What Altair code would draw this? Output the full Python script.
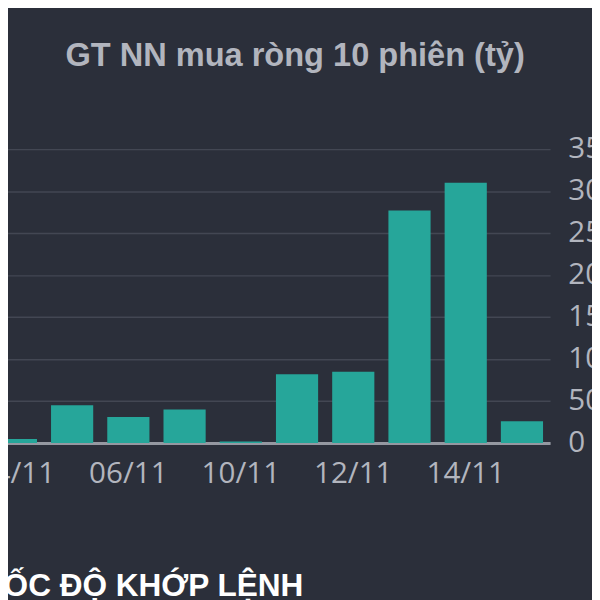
import altair as alt
import pandas as pd

dates = ["04/11", "05/11", "06/11", "07/11", "10/11", "11/11", "12/11", "13/11", "14/11", "17/11"]
values = [5, 45, 31, 40, 2, 82, 85, 277, 310, 26]
shown_dates = ["04/11", "06/11", "10/11", "12/11", "14/11"]
y_ticks = [0, 50, 100, 150, 200, 250, 300, 350]

df = pd.DataFrame({"date": dates, "value": values})

BG = "#2b2f3a"
TXT = "#b2b5be"

chart = alt.Chart(df).mark_bar(color="#26a69a").encode(
    x=alt.X(
        "date:N",
        sort=dates,
        scale=alt.Scale(paddingInner=0.25, paddingOuter=0.125),
        axis=alt.Axis(
            values=shown_dates,
            labelAngle=0,
            labelFont="Open Sans",
            labelFontSize=30,
            labelColor=TXT,
            labelPadding=16,
            ticks=False,
            domainColor="#9598a1",
            domainWidth=3,
            grid=False,
            title="TỐC ĐỘ KHỚP LỆNH",
            titleFont="Liberation Sans",
            titleFontWeight="bold",
            titleFontSize=32,
            titleColor="#ffffff",
            titleAnchor="start",
            titleAlign="left",
            titleBaseline="alphabetic",
            titleX=-4,
            titleY=154,
        ),
    ),
    y=alt.Y(
        "value:Q",
        scale=alt.Scale(domain=[0, 350], nice=False),
        axis=alt.Axis(
            orient="right",
            values=y_ticks,
            format="d",
            labelFont="Open Sans",
            labelFontSize=30,
            labelColor=TXT,
            labelPadding=18,
            labelAlign="left",
            labelBaseline="middle",
            ticks=False,
            domain=False,
            grid=True,
            gridColor="#434753",
            gridWidth=1.5,
            title="",
        ),
    ),
).properties(
    width=570,
    height=298,
    background=BG,
    padding={"left": -20.5, "top": 139, "right": 42.5, "bottom": 155},
    autosize=alt.AutoSizeParams(type="none"),
    title=alt.TitleParams(
        text="GT NN mua ròng 10 phiên (tỷ)",
        font="Liberation Sans",
        fontSize=33,
        fontWeight="bold",
        color=TXT,
        anchor="middle",
        frame="group",
        baseline="alphabetic",
        offset=36,
        dx=26.5,
    ),
).configure_view(stroke="transparent")

chart.save("out.html", embed_options={"renderer": "svg", "actions": False})
